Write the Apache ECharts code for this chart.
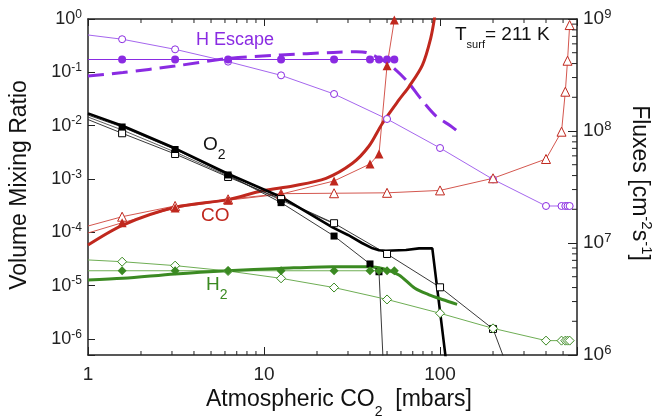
<!DOCTYPE html>
<html><head><meta charset="utf-8">
<script src="https://cdn.jsdelivr.net/npm/echarts@6/dist/echarts.min.js"></script>
<style>html,body{margin:0;padding:0;background:#fff}#c{width:652px;height:420px}</style>
</head><body><div id="c"></div>
<script>
const FONT = '"Liberation Sans", Arial, Helvetica, sans-serif';

// ---- axes ----
const xMin = 1, xMax = 600;
const yLeftMin = 5e-7, yLeftMax = 1;
const yRightMin = 1e6, yRightMax = 1e9;
const xMinorTicks = [2,3,4,5,6,7,8,9,20,30,40,50,60,70,80,90,200,300,400,500];
const rightMinorTicks = [2e6,3e6,4e6,5e6,6e6,7e6,8e6,9e6,2e7,3e7,4e7,5e7,6e7,7e7,8e7,9e7,2e8,3e8,4e8,5e8,6e8,7e8,8e8,9e8];

// ---- H escape fluxes (right axis, cm^-2 s^-1) ----
const hEscOpenX = [1, 1.5625, 3.125, 6.25, 12.5, 25, 50, 100, 200, 400, 490, 515, 530, 545];
const hEscOpenY = [7.2e8, 6.6e8, 5.36e8, 4.16e8, 3.14e8, 2.14e8, 1.28e8, 7.05e7, 3.7e7, 2.14e7, 2.14e7, 2.14e7, 2.14e7, 2.14e7];
const hEscFilledX = [1, 1.5625, 3.125, 6.25, 12.5, 25, 40, 45, 50, 55];
const hEscFilledY = [4.35e8, 4.35e8, 4.35e8, 4.35e8, 4.35e8, 4.35e8, 4.35e8, 4.35e8, 4.35e8, 4.35e8];
const hEscModelX = [1, 1.58, 3.11, 6.21, 12.4, 24.8, 33.4, 38.1, 43.4, 52.1, 65, 78, 94.9, 115, 125];
const hEscModelY = [3.1e8, 3.33e8, 3.8e8, 4.44e8, 4.77e8, 5.03e8, 5.1e8, 5.03e8, 4.6e8, 3.88e8, 2.79e8, 1.93e8, 1.36e8, 1.11e8, 1.0e8];

// ---- CO mixing ratios ----
const coModelX = [1, 1.58, 3.12, 6.2, 9.8, 14.6, 22.5, 31.8, 39.5, 47, 58.4, 66.7, 79.4, 88.5, 93.6];
const coModelY = [5.8e-5, 1.37e-4, 2.94e-4, 4.1e-4, 6.0e-4, 7.4e-4, 1.03e-3, 1.97e-3, 4.15e-3, 1.1e-2, 3.03e-2, 5.4e-2, 0.137, 0.435, 1.19];
const coOpenX = [1, 1.5625, 3.125, 6.25, 12.5, 25, 50, 100, 200, 400, 490, 515, 530, 545];
const coOpenY = [1.31e-4, 1.96e-4, 3.12e-4, 4.16e-4, 5.3e-4, 5.4e-4, 5.5e-4, 6.1e-4, 1.03e-3, 2.37e-3, 7.7e-3, 4.33e-2, 0.165, 0.77];
const coFilledX = [1, 1.5625, 3.125, 6.25, 12.5, 25, 40, 45, 50, 55];
const coFilledY = [9.7e-5, 1.51e-4, 2.86e-4, 4.0e-4, 5.2e-4, 9.17e-4, 1.91e-3, 2.94e-3, 0.133, 0.96];

// ---- O2 mixing ratios ----
const o2ModelX = [1, 1.58, 3.12, 6.27, 12.5, 24.5, 30, 36, 41.4, 45, 49.2, 64, 76, 90.4, 109];
const o2ModelY = [1.7e-2, 9.86e-3, 3.76e-3, 1.24e-3, 4.6e-4, 1.24e-4, 8.9e-5, 6.3e-5, 5.0e-5, 4.6e-5, 4.5e-5, 4.66e-5, 5.0e-5, 5.0e-5, 3.2e-7];
const o2FilledX = [1, 1.5625, 3.125, 6.25, 12.5, 25, 40, 45, 50];
const o2FilledY = [1.58e-2, 9.44e-3, 3.57e-3, 1.19e-3, 3.6e-4, 8.5e-5, 2.55e-5, 1.82e-5, 1e-8];
const o2OpenX = [1, 1.5625, 3.125, 6.25, 12.5, 25, 50, 100, 200, 400];
const o2OpenY = [1.3e-2, 7.2e-3, 2.94e-3, 1.09e-3, 4.2e-4, 1.48e-4, 3.92e-5, 9.3e-6, 1.54e-6, 3.5e-9];
const o2ThinX = [1, 1.5625, 3.125, 6.25, 12.5, 25];
const o2ThinY = [1.45e-2, 8.3e-3, 3.2e-3, 1.14e-3, 4.0e-4, 1.45e-4];

// ---- H2 mixing ratios ----
const h2ModelX = [1, 1.58, 3.12, 6.2, 12.3, 24.5, 39.5, 47, 58.4, 72, 86, 103, 125];
const h2ModelY = [1.28e-5, 1.37e-5, 1.66e-5, 1.91e-5, 2.1e-5, 2.27e-5, 2.27e-5, 2.1e-5, 1.58e-5, 8.9e-6, 6.8e-6, 5.5e-6, 4.46e-6];
const h2FilledX = [1, 1.5625, 3.125, 6.25, 12.5, 25, 40, 45, 50, 55];
const h2FilledY = [1.9e-5, 1.9e-5, 1.9e-5, 1.9e-5, 1.9e-5, 1.9e-5, 1.9e-5, 1.9e-5, 1.9e-5, 1.9e-5];
const h2OpenX = [1, 1.5625, 3.125, 6.25, 12.5, 25, 50, 100, 200, 400, 490, 515, 530, 545];
const h2OpenY = [3.03e-5, 2.81e-5, 2.37e-5, 1.88e-5, 1.37e-5, 9.2e-6, 5.5e-6, 3.03e-6, 1.58e-6, 9.3e-7, 9.3e-7, 9.3e-7, 9.3e-7, 9.3e-7];

const PURPLE = '#8a2be2', PURPLE_L = '#a566ee';
const RED = '#c0281e', RED_L = '#d4574f';
const GREEN = '#3b8a22', GREEN_L = '#6fae55';
const BLACK = '#000';

function pairs(xs, ys, hideFirst) {
  return xs.map((x, i) => (hideFirst && i === 0) ? { value: [x, ys[i]], symbol: 'none' } : [x, ys[i]]);
}
function markerSeries(xs, ys, yAxisIndex, symbol, size, color, lineColor, open, lw) {
  return {
    type: 'line', xAxisIndex: 0, yAxisIndex: yAxisIndex, data: pairs(xs, ys, true),
    symbol: symbol, symbolSize: size, showSymbol: true,
    lineStyle: { color: lineColor, width: lw || 1 },
    itemStyle: open ? { color: '#fff', borderColor: color, borderWidth: 1 } : { color: color, borderColor: color, borderWidth: 0 },
    emphasis: { disabled: true }, silent: true, clip: true
  };
}
function modelSeries(xs, ys, yAxisIndex, color, width, dash, smooth) {
  return {
    type: 'line', xAxisIndex: 0, yAxisIndex: yAxisIndex, data: pairs(xs, ys, false),
    symbol: 'none', smooth: smooth,
    lineStyle: { color: color, width: width, type: dash || 'solid', cap: 'butt' },
    emphasis: { disabled: true }, silent: true, clip: true
  };
}
const isPow10 = v => Math.abs(Math.log10(v) - Math.round(Math.log10(v))) < 1e-6;
const supRich = { m: { fontSize: 18, fontFamily: FONT, color: '#222' }, s: { fontSize: 12, fontFamily: FONT, color: '#222', padding: [0, 0, 9, 0] } };
const supFmt = v => isPow10(v) ? '{m|10}{s|' + Math.round(Math.log10(v)) + '}' : '';
const tickStyle = { color: '#222', width: 1 };

const chart = echarts.init(document.getElementById('c'), null, { renderer: 'canvas' });
chart.setOption({
  animation: false,
  backgroundColor: '#fff',
  grid: { left: 88, top: 19, right: 75, bottom: 65, containLabel: false },
  xAxis: [
    { type: 'log', logBase: 10, min: xMin, max: xMax, position: 'bottom',
      axisLine: { show: true, onZero: false, lineStyle: { color: '#222', width: 1.5 } },
      axisTick: { show: true, inside: true, length: 8, lineStyle: tickStyle },
      axisLabel: { margin: 10, fontSize: 19, fontFamily: FONT, color: '#222',
        formatter: v => isPow10(v) ? String(Math.round(v)) : '' },
      splitLine: { show: false }, minorTick: { show: false } },
    { type: 'log', logBase: 10, min: xMin, max: xMax, position: 'top',
      axisLine: { show: true, onZero: false, lineStyle: { color: '#222', width: 1.5 } },
      axisTick: { show: true, inside: true, length: 7, lineStyle: tickStyle },
      axisLabel: { show: false }, splitLine: { show: false } }
  ],
  yAxis: [
    { type: 'log', logBase: 10, min: yLeftMin, max: yLeftMax, position: 'left',
      axisLine: { show: true, onZero: false, lineStyle: { color: '#222', width: 1.5 } },
      axisTick: { show: true, inside: true, length: 7, lineStyle: tickStyle },
      axisLabel: { margin: 6, formatter: supFmt, rich: supRich },
      splitLine: { show: false } },
    { type: 'log', logBase: 10, min: yRightMin, max: yRightMax, position: 'right',
      axisLine: { show: true, onZero: false, lineStyle: { color: '#222', width: 1.5 } },
      axisTick: { show: true, inside: true, length: 9, lineStyle: tickStyle },
      axisLabel: { margin: 6, formatter: supFmt, rich: { m: { fontSize: 19, fontFamily: FONT, color: '#222' }, s: { fontSize: 13, fontFamily: FONT, color: '#222', padding: [0, 0, 10, 0] } } },
      splitLine: { show: false } }
  ],
  series: [
    // minor ticks on top & bottom x axes
    { type: 'custom', xAxisIndex: 0, yAxisIndex: 0, silent: true, clip: false, z: 5,
      data: xMinorTicks.map(v => [v, yLeftMin]), encode: { x: 0, y: 1 },
      renderItem: function (params, api) {
        const v = api.value(0);
        const b = api.coord([v, yLeftMin]), t = api.coord([v, yLeftMax]);
        return { type: 'group', children: [
          { type: 'line', shape: { x1: b[0], y1: b[1], x2: b[0], y2: b[1] - 4 }, style: { stroke: '#222', lineWidth: 1 } },
          { type: 'line', shape: { x1: t[0], y1: t[1], x2: t[0], y2: t[1] + 4 }, style: { stroke: '#222', lineWidth: 1 } }
        ] };
      } },
    // minor ticks on right axis
    { type: 'custom', xAxisIndex: 0, yAxisIndex: 1, silent: true, clip: false, z: 5,
      data: rightMinorTicks.map(v => [xMax, v]), encode: { x: 0, y: 1 },
      renderItem: function (params, api) {
        const p = api.coord([xMax, api.value(1)]);
        return { type: 'line', shape: { x1: p[0], y1: p[1], x2: p[0] - 5, y2: p[1] }, style: { stroke: '#222', lineWidth: 1 } };
      } },

    // H escape
    markerSeries(hEscOpenX, hEscOpenY, 1, 'circle', 7, PURPLE, PURPLE_L, true, 1),
    markerSeries(hEscFilledX, hEscFilledY, 1, 'circle', 8, PURPLE, PURPLE, false, 1.2),
    modelSeries(hEscModelX, hEscModelY, 1, PURPLE, 3, [16, 8], 0.3),

    // CO
    markerSeries(coOpenX, coOpenY, 0, 'triangle', 9, RED, RED_L, true, 1),
    markerSeries(coFilledX, coFilledY, 0, 'triangle', 9, RED, RED_L, false, 1),
    modelSeries(coModelX, coModelY, 0, RED, 3, null, 0.3),

    // O2
    modelSeries(o2ThinX, o2ThinY, 0, '#333', 0.8, null, false),
    markerSeries(o2OpenX, o2OpenY, 0, 'rect', 7, BLACK, '#222', true, 0.9),
    markerSeries(o2FilledX, o2FilledY, 0, 'rect', 7, BLACK, '#222', false, 0.9),
    modelSeries(o2ModelX, o2ModelY, 0, BLACK, 2.6, null, false),

    // H2
    markerSeries(h2OpenX, h2OpenY, 0, 'diamond', 9, GREEN, GREEN_L, true, 1),
    markerSeries(h2FilledX, h2FilledY, 0, 'diamond', 9, GREEN, GREEN_L, false, 1),
    modelSeries(h2ModelX, h2ModelY, 0, GREEN, 3, null, 0.3)
  ],
  graphic: [
    { type: 'text', x: 196, y: 40, silent: true,
      style: { text: 'H Escape', fontSize: 18, fontFamily: FONT, fill: PURPLE, align: 'left', verticalAlign: 'middle' } },
    { type: 'text', x: 203, y: 145, silent: true,
      style: { text: '{a|O}{b|2}', fill: '#111', align: 'left', verticalAlign: 'middle',
        rich: { a: { fontSize: 19, fontFamily: FONT, fill: '#111' }, b: { fontSize: 14, fontFamily: FONT, fill: '#111', padding: [20, 0, 0, 0] } } } },
    { type: 'text', x: 201, y: 216, silent: true,
      style: { text: 'CO', fontSize: 19, fontFamily: FONT, fill: RED, align: 'left', verticalAlign: 'middle' } },
    { type: 'text', x: 206, y: 285, silent: true,
      style: { text: '{a|H}{b|2}', fill: GREEN, align: 'left', verticalAlign: 'middle',
        rich: { a: { fontSize: 19, fontFamily: FONT, fill: GREEN }, b: { fontSize: 14, fontFamily: FONT, fill: GREEN, padding: [20, 0, 0, 0] } } } },
    { type: 'text', x: 455, y: 35, silent: true,
      style: { text: '{a|T}{b|surf}{a|= 211 K}', fill: '#111', align: 'left', verticalAlign: 'middle',
        rich: { a: { fontSize: 19, fontFamily: FONT, fill: '#111' }, b: { fontSize: 11, fontFamily: FONT, fill: '#111', padding: [19, 0, 0, 0] } } } },
    // axis titles
    { type: 'text', x: 20, y: 185, rotation: Math.PI / 2, silent: true,
      style: { text: 'Volume Mixing Ratio', fontSize: 23, fontFamily: FONT, fill: '#111', align: 'center', verticalAlign: 'middle' } },
    { type: 'text', x: 339, y: 400, silent: true,
      style: { text: '{a|Atmospheric CO}{b|2}{a|  [mbars]}', fill: '#111', align: 'center', verticalAlign: 'middle',
        rich: { a: { fontSize: 23, fontFamily: FONT, fill: '#111' }, b: { fontSize: 14, fontFamily: FONT, fill: '#111', padding: [25, 0, 0, 0] } } } },
    { type: 'text', x: 639, y: 183, rotation: -Math.PI / 2, silent: true,
      style: { text: '{a|Fluxes [cm}{b|-2}{a|s}{b|-1}{a|]}', fill: '#111', align: 'center', verticalAlign: 'middle',
        rich: { a: { fontSize: 23, fontFamily: FONT, fill: '#111' }, b: { fontSize: 15, fontFamily: FONT, fill: '#111', padding: [0, 0, 14, 0] } } } }
  ]
});
</script>
</body></html>
